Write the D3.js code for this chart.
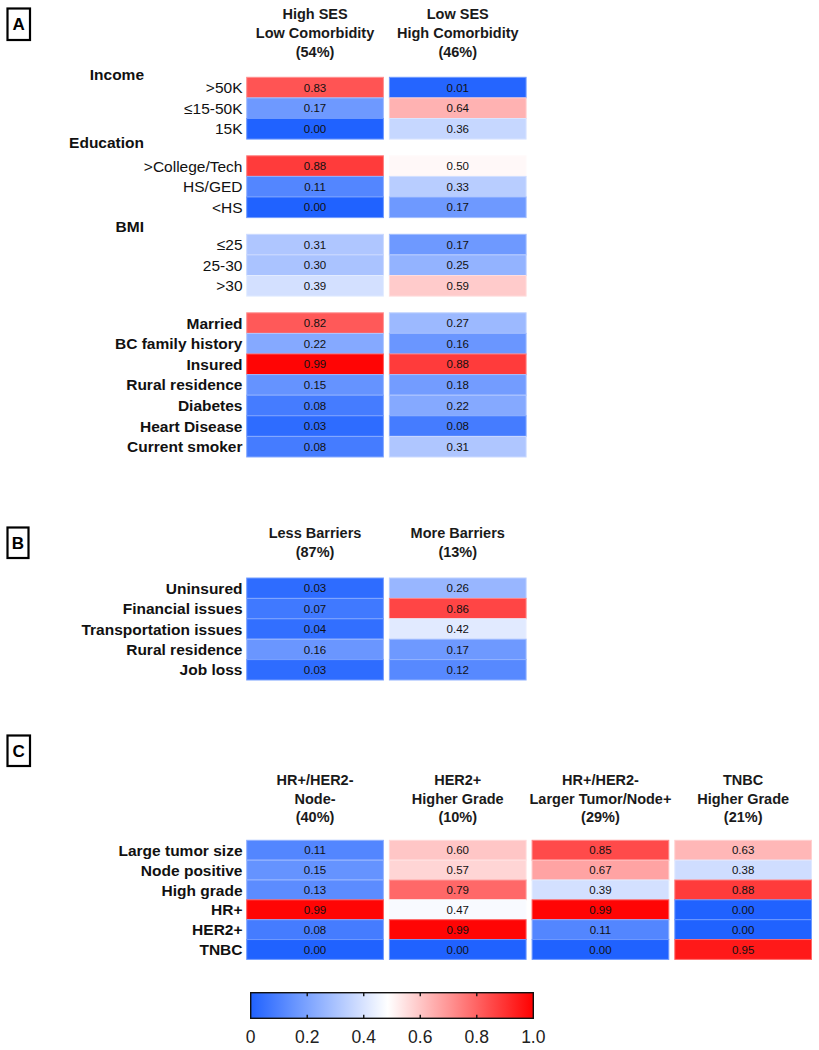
<!DOCTYPE html>
<html><head><meta charset="utf-8">
<script src="https://cdn.jsdelivr.net/npm/d3@7"></script>
<style>
html,body{margin:0;padding:0;background:#fff;}
svg{display:block;font-family:"Liberation Sans",Arial,sans-serif;}
</style></head>
<body>
<svg id="chart" width="819" height="1050"></svg>
<script>
// ---------- DATA ----------
// Panel A
const colsA = ["High SES|Low Comorbidity|(54%)", "Low SES|High Comorbidity|(46%)"];
const groupsA = ["Income", "Education", "BMI", ""];
const rowsA = [">50K", "≤15-50K", "15K", ">College/Tech", "HS/GED", "<HS", "≤25", "25-30", ">30",
  "Married", "BC family history", "Insured", "Rural residence", "Diabetes", "Heart Disease", "Current smoker"];
const rowGroupA = [0,0,0,1,1,1,2,2,2,3,3,3,3,3,3,3];
const valsA_col1 = [0.83, 0.17, 0.00, 0.88, 0.11, 0.00, 0.31, 0.30, 0.39, 0.82, 0.22, 0.99, 0.15, 0.08, 0.03, 0.08];
const valsA_col2 = [0.01, 0.64, 0.36, 0.50, 0.33, 0.17, 0.17, 0.25, 0.59, 0.27, 0.16, 0.88, 0.18, 0.22, 0.08, 0.31];

// Panel B
const colsB = ["Less Barriers|(87%)", "More Barriers|(13%)"];
const rowsB = ["Uninsured", "Financial issues", "Transportation issues", "Rural residence", "Job loss"];
const valsB_col1 = [0.03, 0.07, 0.04, 0.16, 0.03];
const valsB_col2 = [0.26, 0.86, 0.42, 0.17, 0.12];

// Panel C
const colsC = ["HR+/HER2-|Node-|(40%)", "HER2+|Higher Grade|(10%)", "HR+/HER2-|Larger Tumor/Node+|(29%)", "TNBC|Higher Grade|(21%)"];
const rowsC = ["Large tumor size", "Node positive", "High grade", "HR+", "HER2+", "TNBC"];
const valsC_col1 = [0.11, 0.15, 0.13, 0.99, 0.08, 0.00];
const valsC_col2 = [0.60, 0.57, 0.79, 0.47, 0.99, 0.00];
const valsC_col3 = [0.85, 0.67, 0.39, 0.99, 0.11, 0.00];
const valsC_col4 = [0.63, 0.38, 0.88, 0.00, 0.00, 0.95];

// Colorbar ticks
const cbTicks = [0, 0.2, 0.4, 0.6, 0.8, 1.0];
const cbTickLabels = ["0", "0.2", "0.4", "0.6", "0.8", "1.0"];

// ---------- STYLE / LAYOUT ----------
const BLUE = "#2062ff", WHITE = "#ffffff", RED = "#ff0000";
const color = d3.scaleLinear().domain([0, 0.485, 1]).range([BLUE, WHITE, RED]).interpolate(d3.interpolateRgb).clamp(true);
const COLX0 = 246.7, COLSTEP = 142.7, COLGAP = 6;
const LABEL_RIGHT = 242.5;
const FONT_LABEL = 15.5, FONT_CELL = 11.5, FONT_HEAD = 14.5;

const svg = d3.select("#chart");

function xBand(cols) {
  return d3.scaleBand().domain(cols)
    .range([COLX0, COLX0 + cols.length * COLSTEP - COLGAP])
    .paddingInner(COLGAP / COLSTEP).paddingOuter(0);
}

function panelBox(letter, x, y, w, h) {
  const g = svg.append("g");
  g.append("rect").attr("x", x).attr("y", y).attr("width", w).attr("height", h)
    .attr("fill", "none").attr("stroke", "#000").attr("stroke-width", 2.2);
  g.append("text").attr("x", x + w / 2).attr("y", y + h / 2 + 6)
    .attr("text-anchor", "middle").attr("font-size", 17).attr("font-weight", "bold").text(letter);
}

function headers(x, cols, centers, lineGap) {
  cols.forEach(c => {
    const lines = c.split("|");
    const cx = x(c) + x.bandwidth() / 2;
    const t = svg.append("text").attr("text-anchor", "middle")
      .attr("font-size", FONT_HEAD).attr("font-weight", "bold").attr("fill", "#1a1a1a");
    lines.forEach((ln, i) => {
      t.append("tspan").attr("x", cx).attr("y", centers[0] + i * lineGap + FONT_HEAD * 0.36).text(ln);
    });
  });
}

function cells(x, cols, colVals, rows, yFn, rowH) {
  cols.forEach((c, ci) => {
    const vals = colVals[ci];
    const g = svg.append("g");
    g.selectAll("rect").data(rows.map((r, i) => ({ r, i, v: vals[i] }))).join("rect")
      .attr("x", x(c)).attr("y", d => yFn(d.i)).attr("width", x.bandwidth()).attr("height", rowH)
      .attr("fill", d => color(d.v))
      .attr("stroke", d => d3.interpolateRgb(color(d.v), "#ffffff")(0.35))
      .attr("stroke-width", 1);
    g.selectAll("text").data(rows.map((r, i) => ({ r, i, v: vals[i] }))).join("text")
      .attr("x", x(c) + x.bandwidth() / 2).attr("y", d => yFn(d.i) + rowH / 2 + FONT_CELL * 0.36)
      .attr("text-anchor", "middle").attr("font-size", FONT_CELL).attr("fill", "#111")
      .text(d => d3.format(".2f")(d.v));
  });
}

function rowLabels(rows, yFn, rowH, boldFn) {
  svg.append("g").selectAll("text").data(rows.map((r, i) => ({ r, i }))).join("text")
    .attr("x", LABEL_RIGHT).attr("y", d => yFn(d.i) + rowH / 2 + FONT_LABEL * 0.36)
    .attr("text-anchor", "end").attr("font-size", FONT_LABEL)
    .attr("font-weight", d => boldFn(d.i) ? "bold" : "normal").attr("fill", "#111")
    .text(d => d.r);
}

// ---------- PANEL A ----------
panelBox("A", 7.5, 8.5, 22.5, 31.5);
const xA = xBand(colsA);
headers(xA, colsA, [13.3], 19.2);
const rowHA = 20.6, groupGapA = 16.7, topA = 77.3;
const yA = d3.scaleLinear().domain([0, 1]).range([topA, topA + rowHA]);
const yAfn = i => yA(i) + rowGroupA[i] * groupGapA;
cells(xA, colsA, [valsA_col1, valsA_col2], rowsA, yAfn, rowHA);
rowLabels(rowsA, yAfn, rowHA, i => rowGroupA[i] === 3);
// Section labels
const sectionOffset = [3.3, 13.5, 7.6];
groupsA.forEach((gName, gi) => {
  if (!gName) return;
  const first = rowGroupA.indexOf(gi);
  svg.append("text").attr("x", 144).attr("y", yAfn(first) - sectionOffset[gi] + FONT_LABEL * 0.36)
    .attr("text-anchor", "end").attr("font-size", FONT_LABEL).attr("font-weight", "bold").attr("fill", "#111")
    .text(gName);
});

// ---------- PANEL B ----------
panelBox("B", 7.5, 527.5, 21, 30.5);
const xB = xBand(colsB);
headers(xB, colsB, [533], 19);
const rowHB = 20.4, topB = 578;
const yB = d3.scaleLinear().domain([0, 1]).range([topB, topB + rowHB]);
cells(xB, colsB, [valsB_col1, valsB_col2], rowsB, i => yB(i), rowHB);
rowLabels(rowsB, i => yB(i), rowHB, () => true);

// ---------- PANEL C ----------
panelBox("C", 7.5, 735.5, 22.5, 30.5);
const xC = xBand(colsC);
headers(xC, colsC, [780], 18.5);
const rowHC = 19.85, topC = 840.3;
const yC = d3.scaleLinear().domain([0, 1]).range([topC, topC + rowHC]);
cells(xC, colsC, [valsC_col1, valsC_col2, valsC_col3, valsC_col4], rowsC, i => yC(i), rowHC);
rowLabels(rowsC, i => yC(i), rowHC, () => true);

// ---------- COLORBAR ----------
const cbX0 = 250.7, cbX1 = 533.3, cbY = 992.7, cbH = 25.6;
const cbScale = d3.scaleLinear().domain([0, 1]).range([cbX0, cbX1]);
const defs = svg.append("defs");
const grad = defs.append("linearGradient").attr("id", "cbgrad").attr("x1", "0%").attr("x2", "100%");
d3.range(0, 1.0001, 0.05).concat([0.485]).sort(d3.ascending).forEach(t => {
  grad.append("stop").attr("offset", (t * 100) + "%").attr("stop-color", color(t));
});
svg.append("rect").attr("x", cbX0).attr("y", cbY).attr("width", cbX1 - cbX0).attr("height", cbH)
  .attr("fill", "url(#cbgrad)").attr("stroke", "#111").attr("stroke-width", 1.4);
const inner = cbTicks.filter(t => t > 0 && t < 1);
svg.append("g").selectAll("line.top").data(inner).join("line")
  .attr("x1", d => cbScale(d)).attr("x2", d => cbScale(d)).attr("y1", cbY).attr("y2", cbY + 3.5)
  .attr("stroke", "#111").attr("stroke-width", 1.4);
svg.append("g").selectAll("line.bot").data(inner).join("line")
  .attr("x1", d => cbScale(d)).attr("x2", d => cbScale(d)).attr("y1", cbY + cbH - 3.5).attr("y2", cbY + cbH)
  .attr("stroke", "#111").attr("stroke-width", 1.4);
svg.append("g").selectAll("text").data(cbTicks).join("text")
  .attr("x", d => cbScale(d)).attr("y", 1036.7 + 17.5 * 0.36)
  .attr("text-anchor", "middle").attr("font-size", 17.5).attr("fill", "#222")
  .text((d, i) => cbTickLabels[i]);
</script>
</body></html>
